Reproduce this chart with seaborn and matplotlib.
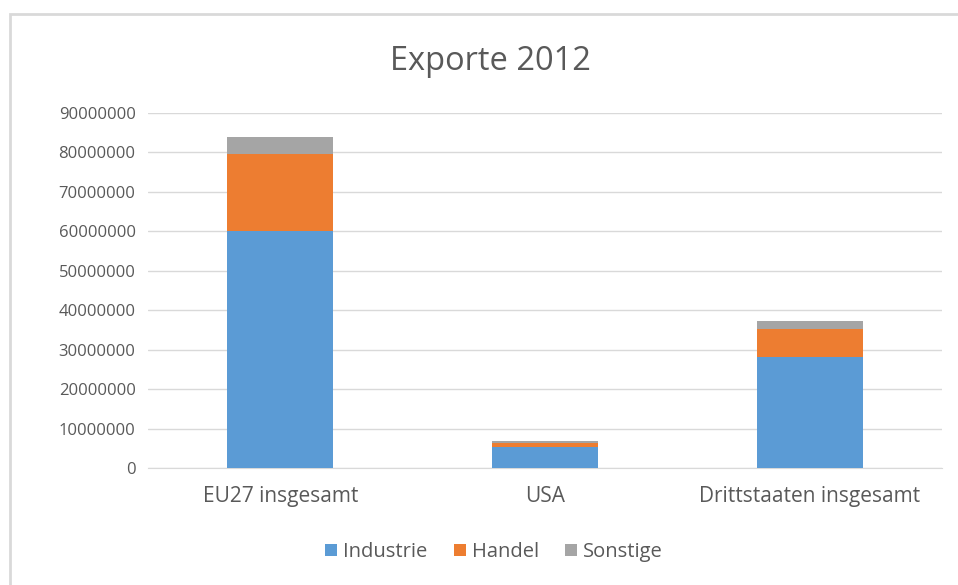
import pandas as pd
import matplotlib.pyplot as plt
import seaborn as sns
from matplotlib.patches import Rectangle, Patch

# Data
regions = ['EU27 insgesamt', 'USA', 'Drittstaaten insgesamt']
industrie = [60100000, 5400000, 28100000]
handel = [19600000, 1000000, 7200000]
sonstige = [4100000, 400000, 2000000]

series = ['Industrie', 'Handel', 'Sonstige']
colors = {'Industrie': '#5b9bd5', 'Handel': '#ed7d31', 'Sonstige': '#a5a5a5'}
text_col = '#595959'

df = pd.DataFrame({'region': regions, 'Industrie': industrie,
                   'Handel': handel, 'Sonstige': sonstige})
# cumulative tops for stacking
df['top_Industrie'] = df['Industrie']
df['top_Handel'] = df['Industrie'] + df['Handel']
df['top_Sonstige'] = df['top_Handel'] + df['Sonstige']

sns.set_style('white')
plt.rcParams['font.family'] = ['Open Sans', 'DejaVu Sans']

fig = plt.figure(figsize=(9.58, 5.85), dpi=100)
ax = fig.add_axes([148 / 958, 1 - 468 / 585, (942 - 148) / 958, (468 - 113) / 585])

# draw from the top of the stack down so lower segments cover upper ones
for s in reversed(series):
    sns.barplot(data=df, x='region', y='top_' + s, order=regions, color=colors[s],
                width=0.4, ax=ax, saturation=1, linewidth=0, zorder=3)

ax.set_ylim(0, 90000000)
ax.set_yticks(range(0, 90000001, 10000000))
ax.set_yticklabels([str(v) for v in range(0, 90000001, 10000000)])
ax.yaxis.grid(True, color='#d9d9d9', linewidth=1, zorder=0)
ax.set_axisbelow(True)
for sp in ['top', 'right', 'left']:
    ax.spines[sp].set_visible(False)
ax.spines['bottom'].set_color('#d9d9d9')
ax.tick_params(axis='both', length=0, colors=text_col)
ax.tick_params(axis='y', pad=9, labelsize=12)
ax.tick_params(axis='x', pad=13, labelsize=15)
ax.set_xlabel('')
ax.set_ylabel('')

fig.text(490 / 958, 1 - 61 / 585, 'Exporte 2012', ha='center', va='center',
         fontsize=23.5, color=text_col)

handles = [Patch(facecolor=colors[s], edgecolor='none', label=s) for s in series]
fig.legend(handles=handles, loc='center', bbox_to_anchor=(494 / 958, 1 - 552 / 585), ncol=3,
           frameon=False, fontsize=14.5, labelcolor=text_col, handlelength=0.6,
           handleheight=0.6, handletextpad=0.3, columnspacing=1.3)

# chart frame
fig.patches.append(Rectangle((10 / 958, -0.05), 1.1, 1 - 14 / 585 + 0.05,
                             transform=fig.transFigure, fill=False,
                             edgecolor='#d9d9d9', linewidth=2))

fig.savefig('out.png')
